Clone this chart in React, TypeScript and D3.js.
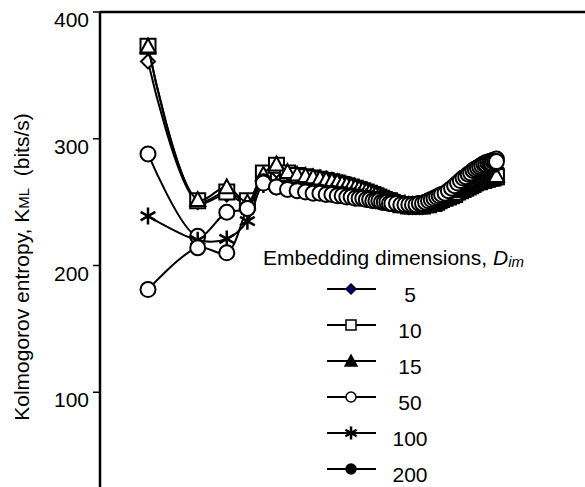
import React, { useEffect, useRef } from 'react'
import * as d3 from 'd3'

// lag index (x, log spaced, no axis drawn)
const lags = [
  1, 2, 3, 4, 5, 6, 7, 8, 9, 10, 11, 12, 13, 14, 15, 16, 17, 18, 19, 20, 21, 22, 23, 24, 25, 26, 27, 28, 29, 30,
  32, 34, 36, 38, 40, 42, 44, 46, 48, 50, 52, 54, 56, 58, 60,
  63, 66, 69, 72, 75, 78, 81, 84, 87, 90, 93, 96, 99, 102, 105, 108, 111, 114, 117, 120, 123, 126, 129,
]

const dim5 = [
  361, 250, 256, 249, 270, 275, 270, 268, 267, 266, 265, 264, 263, 262, 261, 260, 259, 258, 257, 256, 255, 254, 253, 252, 252, 251, 250, 250, 249, 249,
  248, 247, 247, 246, 246, 246, 246, 246, 247, 247, 248, 248, 249, 250, 251,
  252, 253, 254, 255, 257, 258, 259, 260, 261, 262, 263, 264, 265, 265, 266, 266, 267, 267, 268, 268, 268, 269, 269,
]
const dim10 = [
  373, 251, 258, 251, 273, 279, 273, 271, 270, 269, 268, 267, 266, 265, 264, 263, 262, 261, 260, 259, 258, 257, 256, 255, 254, 253, 252, 251, 251, 250,
  249, 248, 248, 247, 247, 247, 247, 247, 248, 248, 249, 249, 250, 251, 252,
  253, 254, 255, 256, 258, 259, 260, 261, 262, 263, 264, 265, 266, 266, 267, 267, 268, 268, 269, 269, 269, 270, 270,
]
const dim15 = [
  373, 252, 262, 250, 272, 280, 274, 272, 271, 270, 269, 268, 267, 266, 265, 264, 263, 262, 261, 260, 259, 258, 257, 256, 255, 254, 253, 252, 252, 251,
  250, 249, 249, 248, 248, 248, 248, 248, 249, 249, 250, 250, 251, 252, 253,
  254, 255, 256, 257, 259, 260, 261, 262, 263, 264, 265, 266, 267, 267, 268, 268, 269, 269, 270, 270, 270, 271, 271,
]
const dim50 = [
  288, 223, 242, 245, 266, 262, 261, 260, 259, 258, 258, 257, 257, 256, 256, 255, 255, 254, 254, 253, 253, 252, 252, 251, 251, 251, 250, 250, 250, 249,
  249, 248, 248, 248, 248, 248, 249, 249, 250, 250, 251, 252, 253, 254, 255,
  256, 258, 260, 262, 264, 266, 268, 270, 271, 273, 274, 276, 277, 278, 279, 280, 281, 281, 282, 282, 283, 283, 284,
]
const dim100 = [
  239, 220, 221, 235, 264, 263, 262, 261, 260, 259, 259, 258, 258, 257, 257, 256, 256, 255, 255, 254, 254, 253, 253, 252, 252, 251, 251, 250, 250, 250,
  249, 249, 248, 248, 248, 248, 249, 249, 250, 250, 251, 252, 253, 254, 255,
  256, 258, 260, 261, 263, 265, 267, 268, 270, 271, 272, 273, 274, 275, 276, 277, 277, 278, 278, 279, 279, 280, 280,
]
const dim200 = [
  181, 214, 210, 245, 265, 262, 260, 259, 258, 257, 257, 256, 256, 255, 255, 254, 254, 253, 253, 253, 252, 252, 251, 251, 251, 250, 250, 250, 249, 249,
  249, 248, 248, 248, 248, 248, 249, 249, 250, 251, 252, 253, 254, 255, 256,
  257, 259, 261, 263, 265, 267, 269, 270, 272, 273, 275, 276, 277, 278, 279, 280, 280, 281, 281, 281, 282, 282, 282,
]

const seriesNames = ['5', '10', '15', '50', '100', '200']
const seriesValues = [dim5, dim10, dim15, dim50, dim100, dim200]
const seriesMarkers = ['diamond', 'square', 'triangle', 'circle', 'star', 'dot']
const legendFills = ['#000080', '#fff', '#000', '#fff', 'none', '#000']

const yTicks = [100, 200, 300, 400]

const W = 585
const H = 487
const FONT = '"Liberation Sans", Arial, sans-serif'

// marker path centred at 0,0
function markerPath(kind: string, s: number) {
  const h = s / 2
  if (kind === 'diamond') return `M0,${-h}L${h},0L0,${h}L${-h},0Z`
  if (kind === 'square') return `M${-h},${-h}H${h}V${h}H${-h}Z`
  if (kind === 'triangle') return `M0,${-h}L${h},${h * 0.85}L${-h},${h * 0.85}Z`
  if (kind === 'star') {
    let p = ''
    for (let a = 0; a < 3; a++) {
      const ang = Math.PI / 2 + (a * Math.PI) / 3
      const dx = Math.cos(ang) * h, dy = Math.sin(ang) * h
      p += `M${-dx},${-dy}L${dx},${dy}`
    }
    return p
  }
  return `M${h},0A${h},${h} 0 1 1 ${-h},0A${h},${h} 0 1 1 ${h},0Z`
}

const App = () => {
  const ref = useRef<SVGSVGElement>(null)

  useEffect(() => {
    const svg = d3.select(ref.current)
    svg.selectAll('*').remove()

    const x = d3.scaleLog().domain([1, 130]).range([148, 497])
    const y = d3.scaleLinear().domain([0, 400]).range([519, 12])

    // axis + top border
    svg.append('line').attr('x1', 100).attr('x2', 100).attr('y1', y(400)).attr('y2', H)
      .attr('stroke', '#000').attr('stroke-width', 2.5)
    svg.append('line').attr('x1', 100).attr('x2', W).attr('y1', y(400)).attr('y2', y(400))
      .attr('stroke', '#000').attr('stroke-width', 2.5)

    const ticks = svg.append('g')
    ticks.selectAll('line').data(yTicks).join('line')
      .attr('x1', 93).attr('x2', 100)
      .attr('y1', d => y(d)).attr('y2', d => y(d))
      .attr('stroke', '#000').attr('stroke-width', 1.5)
    ticks.selectAll('text').data(yTicks).join('text')
      .attr('x', 89).attr('y', d => y(d) + 15)
      .attr('text-anchor', 'end')
      .style('font', `21px ${FONT}`)
      .text(d => d)

    // y label
    const yl = svg.append('text')
      .attr('transform', 'translate(29,267) rotate(-90)')
      .attr('text-anchor', 'middle')
      .style('font', `21px ${FONT}`)
    yl.append('tspan').text('Kolmogorov entropy, K')
    yl.append('tspan').style('font-size', '15px').text('ML')
    yl.append('tspan').attr('xml:space', 'preserve').text('  (bits/s)')

    const line = d3.line<number>()
      .x((d, i) => x(lags[i]))
      .y(d => y(d))
      .curve(d3.curveCatmullRom.alpha(0.5))

    seriesValues.forEach((vals, si) => {
      const g = svg.append('g')
      g.append('path').attr('d', line(vals))
        .attr('fill', 'none').attr('stroke', '#000').attr('stroke-width', 2)
      const kind = seriesMarkers[si]
      const size = kind === 'diamond' ? 14 : kind === 'star' ? 17 : 15
      g.selectAll('path.m').data(vals).join('path')
        .attr('class', 'm')
        .attr('transform', (d, i) => `translate(${x(lags[i])},${y(d)})`)
        .attr('d', markerPath(kind === 'dot' ? 'circle' : kind, size))
        .attr('fill', kind === 'star' ? 'none' : '#fff')
        .attr('stroke', '#000')
        .attr('stroke-width', kind === 'star' ? 2.5 : 2)
    })

    // legend
    const lg = svg.append('g')
    const title = lg.append('text').attr('x', 263).attr('y', 265).style('font', `21px ${FONT}`)
    title.append('tspan').text('Embedding dimensions, ')
    title.append('tspan').style('font-style', 'italic').text('D')
    title.append('tspan').style('font-style', 'italic').style('font-size', '15px').attr('dy', 2).text('im')

    seriesNames.forEach((name, i) => {
      const cy = 289 + i * 36
      lg.append('line').attr('x1', 327).attr('x2', 376).attr('y1', cy).attr('y2', cy)
        .attr('stroke', '#000').attr('stroke-width', 2)
      const kind = seriesMarkers[i]
      lg.append('path')
        .attr('transform', `translate(351,${cy})`)
        .attr('d', markerPath(kind === 'dot' ? 'circle' : kind, kind === 'triangle' ? 12 : kind === 'star' ? 13 : 10))
        .attr('fill', legendFills[i])
        .attr('stroke', '#000')
        .attr('stroke-width', kind === 'star' ? 2.5 : 1.5)
      lg.append('text').attr('x', 410).attr('y', cy + 13)
        .attr('text-anchor', 'middle')
        .style('font', `21px ${FONT}`)
        .text(name)
    })
  }, [])

  return (
    <svg ref={ref} width={W} height={H}
      style={{ position: 'absolute', left: 0, top: 0, background: '#fff' }} />
  )
}

export default App
